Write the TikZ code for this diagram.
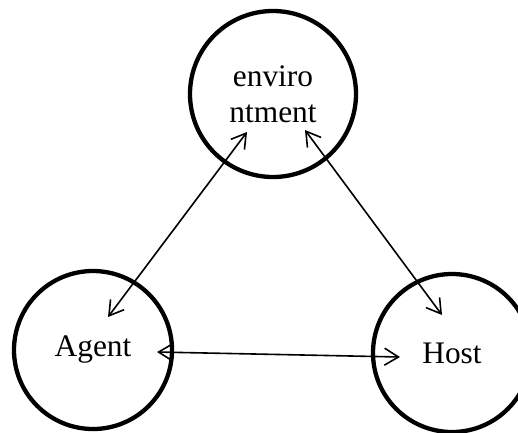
\documentclass[tikz,border=0pt]{standalone}
\usepackage{fontspec}
\setmainfont{Liberation Serif}
\usetikzlibrary{arrows.meta}
\begin{document}
\begin{tikzpicture}[x=1bp,y=-1bp,
  circ/.style={draw,circle,line width=4.3bp,inner sep=0pt,
    font=\fontsize{31.5}{36}\selectfont,align=center},
  link/.style={line width=1.6bp,{Straight Barb[length=14bp,width=17bp]}-{Straight Barb[length=14bp,width=17bp]}}]
\useasboundingbox (0,0) rectangle (518,432);
\begin{scope}
\clip (0,0) rectangle (518,432);
\node[circ,minimum size=166bp] (env) at (273,94) {enviro\\ntment};
\node[circ,minimum size=158bp] (agent) at (93,350) {Agent};
\node[circ,minimum size=158bp] (host) at (452,353) {Host};
\end{scope}
\coordinate (e1) at (247,132);
\coordinate (a1) at (108,317);
\coordinate (e2) at (305,130);
\coordinate (h2) at (442,315);
\coordinate (a3) at (157,352);
\coordinate (h3) at (400,357);
\draw[link] (e1) -- (a1);
\draw[link] (e2) -- (h2);
\draw[link] (a3) -- (h3);
\end{tikzpicture}
\end{document}
